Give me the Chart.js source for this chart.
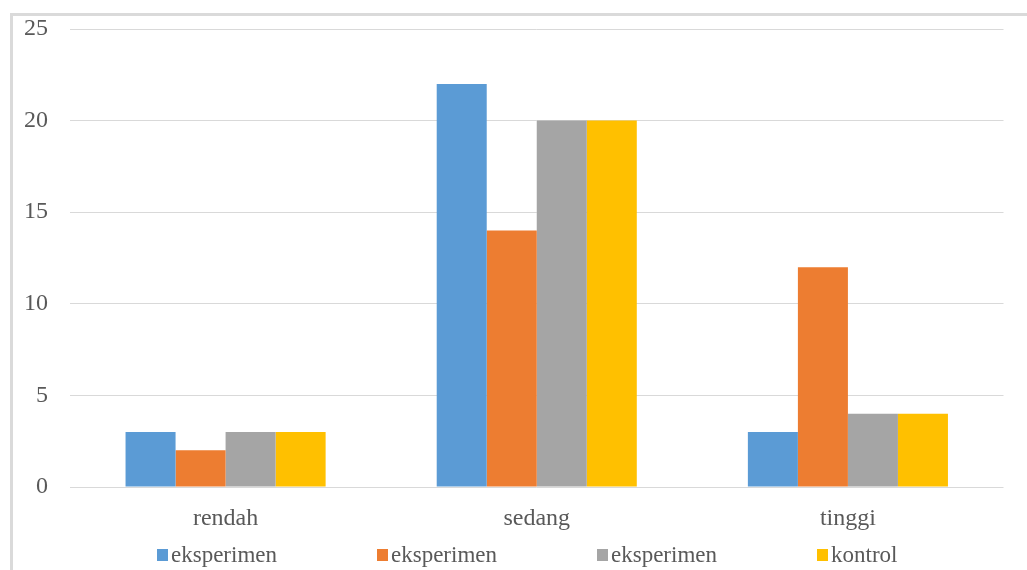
<!DOCTYPE html>
<html>
<head>
<meta charset="utf-8">
<script src="https://cdn.jsdelivr.net/npm/chart.js@4/dist/chart.umd.min.js"></script>
<style>
  html, body { margin: 0; padding: 0; background: #fff; }
  #wrap { width: 1027px; height: 570px; position: relative; }
</style>
</head>
<body>
<div id="wrap"><canvas id="c" width="1027" height="570"></canvas></div>
<script>
// Kategori kemampuan
const categories = ['rendah', 'sedang', 'tinggi'];

// Jumlah siswa per kelompok
const seriesNames = ['eksperimen', 'eksperimen', 'eksperimen', 'kontrol'];
const eksperimen1 = [3, 22, 3];
const eksperimen2 = [2, 14, 12];
const eksperimen3 = [3, 20, 4];
const kontrol = [3, 20, 4];

const yTicks = [0, 5, 10, 15, 20, 25];

const colors = ['#5B9BD5', '#ED7D31', '#A5A5A5', '#FFC000'];
const textColor = '#595959';
const gridColor = '#D9D9D9';
const fontFamily = "'Liberation Serif', 'Times New Roman', Times, serif";

const seriesValues = [eksperimen1, eksperimen2, eksperimen3, kontrol];

// Frame around the chart and white background
const framePlugin = {
  id: 'frame',
  beforeDraw(chart) {
    const ctx = chart.ctx;
    ctx.save();
    ctx.fillStyle = '#ffffff';
    ctx.fillRect(0, 0, chart.width, chart.height);
    ctx.strokeStyle = '#DADADA';
    ctx.lineWidth = 3;
    ctx.beginPath();
    ctx.moveTo(11.5, chart.height);
    ctx.lineTo(11.5, 14.5);
    ctx.lineTo(chart.width, 14.5);
    ctx.stroke();
    ctx.restore();
  }
};

// Legend row with evenly spaced slots
const slotLegend = {
  id: 'slotLegend',
  afterDraw(chart) {
    const ctx = chart.ctx;
    const startX = 157, step = 220, y = 555;
    ctx.save();
    ctx.font = '23px ' + fontFamily;
    ctx.textBaseline = 'middle';
    ctx.textAlign = 'left';
    chart.data.datasets.forEach((ds, i) => {
      const x = startX + i * step;
      ctx.fillStyle = ds.backgroundColor;
      ctx.fillRect(x, y - 6, 11, 12);
      ctx.fillStyle = textColor;
      ctx.fillText(ds.label, x + 14, y + 1);
    });
    ctx.restore();
  }
};

const datasets = seriesValues.map((vals, i) => ({
  label: seriesNames[i],
  data: vals,
  backgroundColor: colors[i],
  borderWidth: 0,
  categoryPercentage: 0.643,
  barPercentage: 1.0
}));

new Chart(document.getElementById('c'), {
  type: 'bar',
  data: { labels: categories, datasets },
  options: {
    responsive: false,
    animation: false,
    devicePixelRatio: 1,
    layout: { padding: { top: 29, right: 23.5, bottom: 0, left: 0 } },
    plugins: {
      legend: { display: false },
      tooltip: { enabled: false }
    },
    scales: {
      x: {
        grid: { display: false, drawTicks: false },
        border: { display: false },
        ticks: {
          color: textColor,
          font: { family: fontFamily, size: 24 },
          padding: 17
        },
        afterFit(scale) {
          scale.height = 83;
          scale.paddingLeft = 0;
          scale.paddingRight = 0;
        }
      },
      y: {
        min: 0,
        max: 25,
        afterBuildTicks(scale) { scale.ticks = yTicks.map(v => ({ value: v })); },
        grid: { color: gridColor, lineWidth: 1, drawTicks: false },
        border: { display: false },
        ticks: {
          color: textColor,
          font: { family: fontFamily, size: 24 },
          padding: 22
        },
        afterFit(scale) {
          scale.width = 70;
          scale.paddingTop = 0;
          scale.paddingBottom = 0;
        }
      }
    }
  },
  plugins: [framePlugin, slotLegend]
});
</script>
</body>
</html>
